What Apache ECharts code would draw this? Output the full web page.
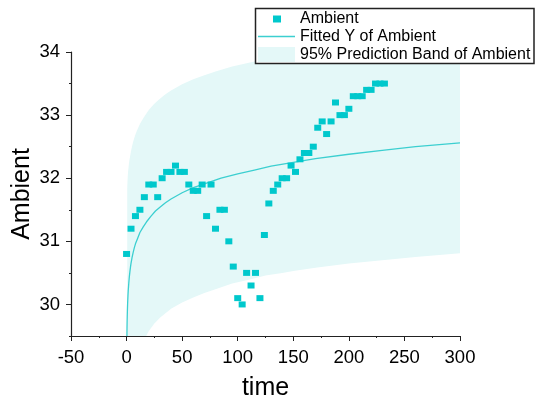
<!DOCTYPE html>
<html>
<head>
<meta charset="utf-8">
<script src="https://cdn.jsdelivr.net/npm/echarts@6/dist/echarts.min.js"></script>
<style>
html,body{margin:0;padding:0;background:#fff;}
#chart{width:536px;height:401px;}
</style>
</head>
<body>
<div id="chart"></div>
<script>
// ---- data ----
const time = [0,4,8,12,16,20,24,28,32,36,40,44,48,52,56,60,64,68,72,76,80,84,88,92,96,100,104,108,112,116,120,124,128,132,136,140,144,148,152,156,160,164,168,172,176,180,184,188,192,196,200,204,208,212,216,220,224,228,232];
const ambient = [30.8,31.2,31.4,31.5,31.7,31.9,31.9,31.7,32.0,32.1,32.1,32.2,32.1,32.1,31.9,31.8,31.8,31.9,31.4,31.9,31.2,31.5,31.5,31.0,30.6,30.1,30.0,30.5,30.3,30.5,30.1,31.1,31.6,31.8,31.9,32.0,32.0,32.2,32.1,32.3,32.4,32.4,32.5,32.8,32.9,32.7,32.9,33.2,33.0,33.0,33.1,33.3,33.3,33.3,33.4,33.4,33.5,33.5,33.5];

const fitT = [0.3,0.4,0.5,0.6,0.75,0.9,1,1.25,1.5,1.75,2,2.5,3,3.5,4,5,6,7,8,10,12,15,18,22,26,30,35,40,50,60,70,85,100,115,130,150,170,200,230,260,300];
const fitY = [29.5,29.63,29.73,29.81,29.91,29.99,30.04,30.14,30.22,30.28,30.34,30.44,30.52,30.59,30.65,30.75,30.83,30.9,30.96,31.05,31.14,31.23,31.31,31.4,31.48,31.54,31.61,31.67,31.77,31.85,31.91,32.0,32.07,32.13,32.19,32.25,32.31,32.38,32.44,32.5,32.56];

const bandT = [0.6,0.8,1,1.25,1.5,2,2.5,3,4,5,6,7.5,9,10,12,15,18,20,25,30,35,40,50,60,70,80,95,110,125,140,150,170,200,230,260,300];
const bandUpper = [31.85,31.94,32.01,32.08,32.13,32.21,32.28,32.33,32.43,32.51,32.58,32.67,32.74,32.78,32.86,32.95,33.03,33.08,33.18,33.26,33.33,33.39,33.49,33.57,33.63,33.69,33.77,33.83,33.89,33.94,33.97,34.03,34.11,34.18,34.24,34.31];
const bandLower = [27.77,27.92,28.04,28.15,28.25,28.39,28.5,28.6,28.75,28.87,28.96,29.08,29.17,29.22,29.32,29.43,29.51,29.58,29.7,29.79,29.86,29.93,30.03,30.11,30.18,30.24,30.33,30.39,30.46,30.5,30.53,30.58,30.65,30.7,30.75,30.81];

const xTicks = {min:-50, max:300, interval:50};
const yTicks = {min:29.5, max:34, interval:0.5};
const yLabels = [30,31,32,33,34];

// ---- build ----
const FONT = 'Liberation Sans, Arial, sans-serif';
const C_MARK = '#00c8cc';
const C_LINE = '#3ccfd0';
const C_BAND = '#e4f8f8';
const C_AXIS = '#222';

const scatterData = time.map((t,i)=>[t, ambient[i]]);
const fitData = fitT.map((t,i)=>[t, fitY[i]]);
const upperData = bandT.map((t,i)=>[t, bandUpper[i]]);
const lowerData = bandT.map((t,i)=>[t, bandLower[i]]);

const chart = echarts.init(document.getElementById('chart'), null, {renderer:'canvas'});
chart.setOption({
  animation:false,
  backgroundColor:'#fff',
  grid:{left:71, right:76, top:52, bottom:65, containLabel:false, outerBoundsMode:'none'},
  xAxis:{
    type:'value', min:xTicks.min, max:xTicks.max, interval:xTicks.interval, z:5,
    name:'time', nameLocation:'middle', nameGap:40, nameMoveOverlap:false,
    nameTextStyle:{fontFamily:FONT, fontSize:25, color:'#000'},
    axisLine:{show:true, onZero:false, lineStyle:{color:C_AXIS, width:1.2}},
    axisTick:{show:true, inside:false, length:5, lineStyle:{color:C_AXIS}},
    minorTick:{show:true, splitNumber:2, length:2, lineStyle:{color:C_AXIS}},
    splitLine:{show:false}, minorSplitLine:{show:false},
    axisLabel:{fontFamily:FONT, fontSize:18.5, color:'#000', margin:12}
  },
  yAxis:[{
    type:'value', min:yTicks.min, max:yTicks.max, interval:yTicks.interval, z:5,
    name:'Ambient', nameLocation:'middle', nameGap:36, nameRotate:90, nameMoveOverlap:false,
    nameTextStyle:{fontFamily:FONT, fontSize:25, color:'#000'},
    axisLine:{show:true, onZero:false, lineStyle:{color:C_AXIS, width:1.2}},
    axisTick:{show:true, inside:false, length:5, customValues:yLabels, lineStyle:{color:C_AXIS}},
    splitLine:{show:false},
    axisLabel:{fontFamily:FONT, fontSize:18.5, color:'#000', margin:11, customValues:yLabels,
      formatter:function(v){ return Math.abs(v-Math.round(v))<1e-6 ? String(Math.round(v)) : ''; }}
  },{
    type:'value', min:yTicks.min, max:yTicks.max, interval:yTicks.interval, position:'left', offset:0, z:5,
    axisLine:{show:false, onZero:false}, axisLabel:{show:false}, splitLine:{show:false},
    axisTick:{show:true, inside:false, length:2, lineStyle:{color:C_AXIS}}
  }],
  legend:[
    {data:[{name:'Ambient', icon:'rect'}], orient:'vertical', left:273, top:11, padding:0,
     itemWidth:8, itemHeight:7, selectedMode:false,
     textStyle:{fontFamily:FONT, fontSize:16, color:'#000', lineHeight:16, padding:[0,0,0,14]}},
    {data:[{name:'Fitted Y of Ambient', icon:'rect', itemStyle:{color:C_LINE}}], orient:'vertical', left:258, top:28.5, padding:0,
     itemWidth:37, itemHeight:1.3, selectedMode:false,
     textStyle:{fontFamily:FONT, fontSize:16, color:'#000', lineHeight:16}},
    {data:[{name:'95% Prediction Band of Ambient', icon:'rect', itemStyle:{color:C_BAND, opacity:1}}], orient:'vertical', left:258, top:46.5, padding:0,
     itemWidth:37, itemHeight:15, selectedMode:false,
     textStyle:{fontFamily:FONT, fontSize:16, color:'#000', lineHeight:16}}
  ],
  graphic:[{
    type:'rect', z:3, zlevel:0,
    shape:{x:255.5, y:8.5, width:278.5, height:55},
    style:{fill:'#fff', stroke:C_AXIS, lineWidth:1.5}
  }],
  series:[
    {name:'95% Prediction Band of Ambient', type:'line', data:upperData, symbol:'none', showSymbol:false,
     lineStyle:{width:0, color:C_BAND}, itemStyle:{color:C_BAND},
     areaStyle:{color:C_BAND, opacity:1, origin:'start'}, z:1},
    {name:'band-lower', type:'line', data:lowerData, symbol:'none', showSymbol:false, silent:true,
     lineStyle:{width:0, color:'#fff'}, itemStyle:{color:'#fff'},
     areaStyle:{color:'#fff', opacity:1, origin:'start'}, z:1},
    {name:'Fitted Y of Ambient', type:'line', data:fitData, symbol:'none', showSymbol:false,
     itemStyle:{color:C_LINE}, lineStyle:{color:C_LINE, width:1.3}, z:2},
    {name:'Ambient', type:'scatter', data:scatterData, symbol:'rect', symbolSize:[7,6],
     itemStyle:{color:C_MARK, opacity:1}, z:2}
  ]
});
</script>
</body>
</html>
